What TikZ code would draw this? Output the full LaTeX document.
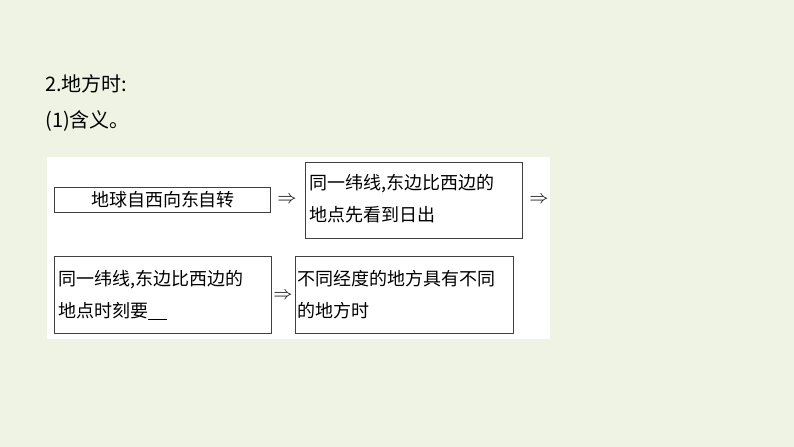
\documentclass[tikz,border=0pt]{standalone}
\usepackage{fontspec}
\setmainfont{Liberation Serif}
\newfontfamily\cjk{Noto Sans CJK SC}
\definecolor{bgc}{HTML}{EFF3E3}
\begin{document}
\begin{tikzpicture}[x=0.75pt,y=-0.75pt,
  box/.style={draw=black!75,line width=0.6pt,inner sep=0pt},
  txt/.style={font=\cjk\fontsize{13.5}{24}\selectfont,anchor=north west,align=left,inner sep=0pt},
  arr/.style={font=\fontsize{15}{15}\selectfont,inner sep=0pt},
  head/.style={font=\cjk\fontsize{15}{16}\selectfont,anchor=west,inner sep=0pt}]
\fill[bgc] (0,0) rectangle (794,447);
\useasboundingbox (0,0) rectangle (794,447);
\node[head] (h1) at (45,84) {2.地方时:};
\node[head] (h2) at (45,121) {(1)含义。};
\fill[white] (47,157) rectangle (550,339);
\draw[box] (54,187) rectangle (270,212);
\node[font=\cjk\fontsize{13.5}{14}\selectfont] (b1) at (163,200) {地球自西向东自转};
\node[arr] (a1) at (287,200) {$\Rightarrow$};
\draw[box] (305,162) rectangle (522,238);
\node[txt] (b2) at (309,174) {同一纬线,东边比西边的\\地点先看到日出};
\node[arr] (a2) at (539,200) {$\Rightarrow$};
\draw[box] (54,256) rectangle (271,333);
\node[txt] (b3) at (58,270) {同一纬线,东边比西边的\\地点时刻要\rule[-2pt]{14pt}{0.5pt}};
\node[arr] (a3) at (283,296) {$\Rightarrow$};
\draw[box] (295,256) rectangle (513,333);
\node[txt] (b4) at (297,270) {不同经度的地方具有不同\\的地方时};
\end{tikzpicture}
\end{document}
